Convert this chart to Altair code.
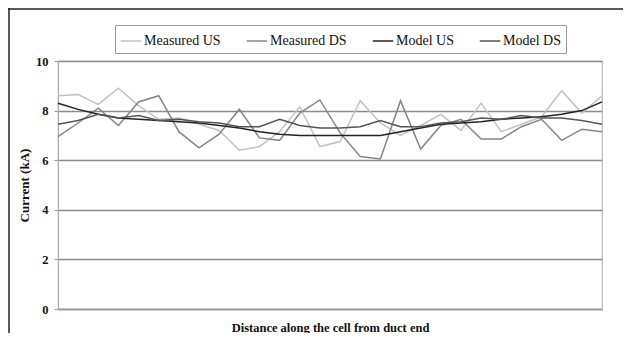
import altair as alt
import pandas as pd

positions = list(range(28))
measured_us = [8.60, 8.65, 8.25, 8.90, 8.20, 7.65, 7.70, 7.45, 7.20, 6.40, 6.55, 7.15, 8.15, 6.55,
               6.75, 8.40, 7.50, 7.00, 7.40, 7.85, 7.20, 8.30, 7.15, 7.45, 7.75, 8.80, 7.90, 8.60]
measured_ds = [6.95, 7.50, 8.10, 7.40, 8.35, 8.60, 7.15, 6.50, 7.05, 8.05, 6.90, 6.80, 7.90, 8.43,
               7.10, 6.15, 6.05, 8.40, 6.45, 7.40, 7.65, 6.85, 6.85, 7.35, 7.65, 6.80, 7.25, 7.15]
model_us = [8.30, 8.05, 7.85, 7.70, 7.65, 7.60, 7.55, 7.50, 7.40, 7.30, 7.15, 7.05, 7.00, 7.00,
            7.00, 7.00, 7.00, 7.15, 7.30, 7.45, 7.50, 7.55, 7.65, 7.70, 7.75, 7.85, 8.00, 8.35]
model_ds = [7.45, 7.60, 7.85, 7.70, 7.80, 7.60, 7.65, 7.55, 7.50, 7.35, 7.35, 7.65, 7.40, 7.30,
            7.30, 7.35, 7.60, 7.35, 7.35, 7.50, 7.55, 7.70, 7.65, 7.80, 7.70, 7.70, 7.60, 7.45]

series_names = ["Measured US", "Measured DS", "Model US", "Model DS"]
series_colors = ["#c2c2c2", "#858585", "#222222", "#555555"]
series_widths = [1.5, 1.5, 3.0, 2.4]

rows = []
for name, vals in zip(series_names, [measured_us, measured_ds, model_us, model_ds]):
    for p, v in zip(positions, vals):
        rows.append({"pos": p, "value": v, "series": name})
df = pd.DataFrame(rows)

FONT = "Liberation Serif"

color = alt.Color("series:N", scale=alt.Scale(domain=series_names, range=series_colors),
                  sort=series_names,
                  legend=alt.Legend(title=None, orient="none", legendX=57, legendY=-36,
                                    direction="horizontal", strokeColor="#9a9a9a",
                                    padding=5, symbolType="stroke", symbolSize=420,
                                    symbolStrokeWidth=2.2, labelFont=FONT, labelFontSize=14,
                                    labelColor="#111", columnPadding=22, labelOffset=2))
width_enc = alt.StrokeWidth("series:N", scale=alt.Scale(domain=series_names, range=series_widths),
                            legend=None)

x = alt.X("pos:Q", scale=alt.Scale(domain=[0, 27], nice=False),
          axis=alt.Axis(labels=False, ticks=False, grid=False, domainColor="#999999",
                        domainWidth=1.5, title="Distance along the cell from duct end",
                        titleFont=FONT, titleFontSize=12.5, titleFontWeight="bold",
                        titleColor="#111", titleY=12, titleBaseline="top"))
y = alt.Y("value:Q", scale=alt.Scale(domain=[0, 10], nice=False),
          axis=alt.Axis(values=[0, 2, 4, 6, 8, 10], format="d", grid=True, gridColor="#8c8c8c",
                        gridWidth=1.3, domainColor="#aaaaaa", tickColor="#999999", tickSize=4,
                        labelPadding=6, labelFont=FONT, labelFontSize=12.5, labelFontWeight="bold",
                        labelColor="#111", title="Current (kA)", titleFont=FONT, titleFontSize=13,
                        titleFontWeight="bold", titleColor="#111", titleX=-34, titleY=124,
                        titleAngle=-90, titleAlign="center", titleBaseline="middle"))

measured = alt.Chart(df).transform_filter(
    alt.FieldOneOfPredicate(field="series", oneOf=series_names[:2])
).mark_line().encode(x=x, y=y, color=color, strokeWidth=width_enc, detail="series:N")

model = alt.Chart(df).transform_filter(
    alt.FieldOneOfPredicate(field="series", oneOf=series_names[2:])
).mark_line().encode(x=x, y=y, color=color, strokeWidth=width_enc, detail="series:N")

frame_src = alt.Data(values=[{"k": 1}])
top_rule = alt.Chart(frame_src).mark_rule(color="#222", strokeWidth=1.5).encode(
    x=alt.value(-50), x2=alt.value(565), y=alt.value(-52))
left_rule = alt.Chart(frame_src).mark_rule(color="#222", strokeWidth=1.5).encode(
    x=alt.value(-49), y=alt.value(-53), y2=alt.value(272))

chart = alt.layer(measured, model, top_rule, left_rule).properties(
    width=544, height=248,
    autosize=alt.AutoSizeParams(type="none"),
    padding={"left": 50, "top": 53, "right": 21, "bottom": 24},
    background="white",
).configure_view(stroke="#bbbbbb", strokeWidth=1.2)

chart.save("out.html", embed_options={"renderer": "svg", "actions": False})
